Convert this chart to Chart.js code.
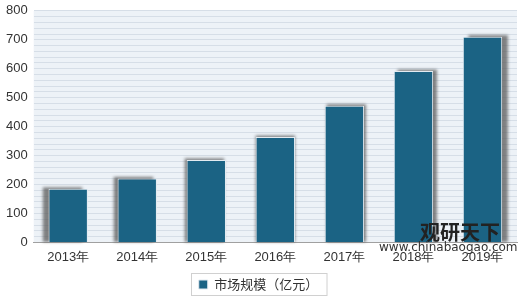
<!DOCTYPE html>
<html>
<head>
<meta charset="utf-8">
<script src="https://cdn.jsdelivr.net/npm/chart.js@4"></script>
<style>
  html, body { margin: 0; padding: 0; background: #fff; }
  #wrap { width: 520px; height: 301px; }
</style>
</head>
<body>
<div id="wrap"><canvas id="graphique" width="520" height="301"></canvas></div>
<script>
var years = ['2013年', '2014年', '2015年', '2016年', '2017年', '2018年', '2019年'];
var marketSize = [185, 221, 285, 364, 472, 592, 711];
var seriesName = '市场规模（亿元）';

// fond de la zone de tracé, ombre des barres, cadre de la légende, filigrane
var decor = {
    id: 'decor',
    beforeDraw: function(chart) {
        var a = chart.chartArea, c = chart.ctx;
        c.save();
        c.fillStyle = '#edf2f7';
        c.fillRect(a.left, a.top, a.right - a.left, a.bottom - a.top);
        c.restore();
    },
    beforeDatasetsDraw: function(chart) {
        var c = chart.ctx, bars = chart.getDatasetMeta(0).data;
        var mid = (bars.length - 1) / 2;
        c.save();
        c.filter = 'blur(1.5px)';
        c.fillStyle = 'rgba(90,90,90,0.75)';
        bars.forEach(function(b, i) {
            var dx = (i - mid) * 1.9;
            var w = b.width;
            c.fillRect(b.x - w / 2 + dx, b.y - 1.5, w, b.base - b.y + 1.5);
        });
        c.restore();
    },
    afterDraw: function(chart) {
        var c = chart.ctx, lg = chart.legend, hb = lg.legendHitBoxes[0];
        c.save();
        c.strokeStyle = '#d0d0d0';
        c.lineWidth = 1;
        c.strokeRect(Math.round(hb.left) - 7.5, Math.round(hb.top) - 4.5, hb.width + 16, hb.height + 9);
        c.fillStyle = '#222';
        c.font = 'bold 20px "Noto Sans CJK SC"';
        c.textBaseline = 'middle';
        c.fillText('观研天下', 420, 232);
        c.fillStyle = '#333';
        c.font = '12px "DejaVu Sans"';
        c.fillText('www.chinabaogao.com', 379, 248);
        c.restore();
    }
};

var chart = new Chart(document.getElementById('graphique').getContext('2d'), {
    type: 'bar',
    data: {
        labels: years,
        datasets: [{
            label: seriesName,
            data: marketSize,
            backgroundColor: '#1b6384',
            borderColor: '#e3ebf1',
            borderWidth: 1,
            categoryPercentage: 1,
            barPercentage: 0.57
        }]
    },
    options: {
        responsive: false,
        animation: false,
        devicePixelRatio: 1,
        layout: { padding: { left: 0, right: 3, top: 0, bottom: 0 } },
        scales: {
            x: {
                grid: { display: false, drawTicks: false, tickLength: 0 },
                border: { color: '#a0a0a0' },
                ticks: { color: '#333', font: { family: 'Liberation Sans', size: 13 }, padding: 7 }
            },
            y: {
                min: 0,
                max: 800,
                grid: { color: '#d6dee7', drawTicks: false },
                border: { display: false },
                ticks: {
                    stepSize: 20,
                    autoSkip: false,
                    color: '#333',
                    padding: 6,
                    font: { family: 'Liberation Sans', size: 13, lineHeight: 0.75 },
                    callback: function(v) { return v % 100 === 0 ? v : ''; }
                }
            }
        },
        plugins: {
            legend: {
                position: 'bottom',
                labels: {
                    color: '#333',
                    boxWidth: 9,
                    boxHeight: 9,
                    padding: 6,
                    font: { family: 'Noto Sans CJK SC', size: 13 }
                }
            },
            tooltip: { enabled: false }
        }
    },
    plugins: [decor]
});
</script>
</body>
</html>
